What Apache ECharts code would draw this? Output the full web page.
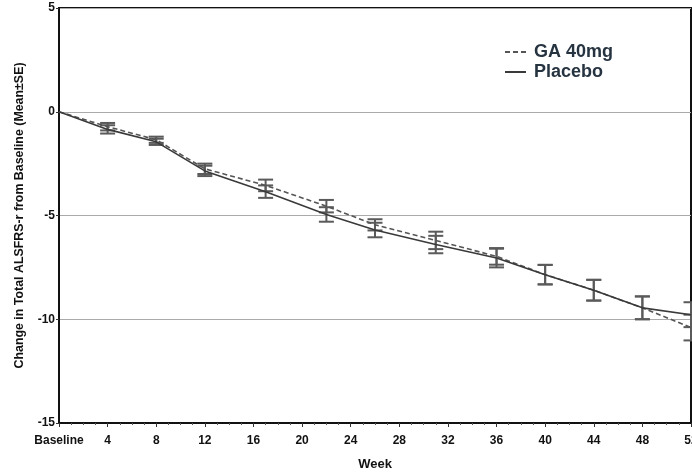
<!DOCTYPE html>
<html>
<head>
<meta charset="utf-8">
<script src="https://cdn.jsdelivr.net/npm/echarts@6/dist/echarts.min.js"></script>
<style>
html,body{margin:0;padding:0;background:#fff;}
#chart{width:692px;height:475px;}
</style>
</head>
<body>
<div id="chart"></div>
<script>
// Data
const weeks       = [0, 4, 8, 12, 17, 22, 26, 31, 36, 40, 44, 48, 52];
const gaMean      = [0, -0.72, -1.35, -2.75, -3.55, -4.55, -5.45, -6.20, -6.97, -7.85, -8.60, -9.45, -10.40];
const gaSE        = [0, 0.18, 0.15, 0.25, 0.28, 0.30, 0.27, 0.42, 0.40, 0.47, 0.50, 0.55, 0.62];
const placeboMean = [0, -0.85, -1.45, -2.85, -3.85, -4.95, -5.70, -6.40, -7.05, -7.85, -8.60, -9.45, -9.78];
const placeboSE   = [0, 0.20, 0.15, 0.25, 0.30, 0.35, 0.35, 0.42, 0.45, 0.47, 0.50, 0.55, 0.60];
const seriesNames = ['GA 40mg', 'Placebo'];
const yTicks = [-15, -10, -5, 0, 5];

const pairs = (m) => weeks.map((w, i) => [w, m[i]]);
const bars = (m, s) => weeks.map((w, i) => [w, m[i] - s[i], m[i] + s[i]]).filter((d, i) => s[i] > 0);

function errorBar(color) {
  return function (params, api) {
    const x = api.value(0);
    const lo = api.coord([x, api.value(1)]);
    const hi = api.coord([x, api.value(2)]);
    const hw = 7.5;
    const st = { stroke: color, lineWidth: 2 };
    return {
      type: 'group',
      children: [
        { type: 'line', shape: { x1: lo[0], y1: lo[1], x2: hi[0], y2: hi[1] }, style: st },
        { type: 'line', shape: { x1: lo[0] - hw, y1: lo[1], x2: lo[0] + hw, y2: lo[1] }, style: st },
        { type: 'line', shape: { x1: hi[0] - hw, y1: hi[1], x2: hi[0] + hw, y2: hi[1] }, style: st }
      ]
    };
  };
}

const font = 'Liberation Sans, Arial, sans-serif';
const chart = echarts.init(document.getElementById('chart'), null, { renderer: 'canvas' });
chart.setOption({
  backgroundColor: '#fff',
  animation: false,
  grid: {
    left: 59, right: 1, top: 8, bottom: 52, containLabel: false, outerBoundsMode: 'none',
    show: true, borderColor: '#111', borderWidth: 2, backgroundColor: 'transparent'
  },
  legend: {
    data: seriesNames,
    orient: 'vertical',
    left: 499,
    top: 38,
    itemWidth: 21,
    itemHeight: 14,
    itemGap: 2,
    itemStyle: { opacity: 0 },
    textStyle: { color: '#263340', fontSize: 18, fontWeight: 'bold', fontFamily: font, padding: [0, 0, 0, 3] }
  },
  xAxis: {
    type: 'value',
    min: 0, max: 52, interval: 4,
    name: 'Week', nameLocation: 'middle', nameGap: 35,
    nameTextStyle: { color: '#111', fontSize: 13, fontWeight: 'bold', fontFamily: font },
    axisLine: { show: true, onZero: false, lineStyle: { color: '#111', width: 2 } },
    axisTick: { show: true, length: 4, lineStyle: { color: '#333' } },
    minorTick: { show: true, splitNumber: 4, length: 2, lineStyle: { color: '#555' } },
    splitLine: { show: false },
    axisLabel: {
      margin: 12, color: '#111', fontSize: 12, fontWeight: 'bold', fontFamily: font,
      formatter: (v) => v === 0 ? 'Baseline' : String(v)
    }
  },
  yAxis: {
    type: 'value',
    min: yTicks[0], max: yTicks[yTicks.length - 1], interval: 5,
    name: 'Change in Total ALSFRS-r from Baseline (Mean±SE)',
    nameLocation: 'middle', nameGap: 33,
    nameTextStyle: { color: '#111', fontSize: 12.4, fontWeight: 'bold', fontFamily: font },
    axisLine: { show: true, onZero: false, lineStyle: { color: '#111', width: 2 } },
    axisTick: { show: true, length: 3, lineStyle: { color: '#333' } },
    splitLine: { show: true, lineStyle: { color: '#aaa', width: 1.2 } },
    axisLabel: { margin: 4, color: '#111', fontSize: 12, fontWeight: 'bold', fontFamily: font }
  },
  series: [
    {
      name: seriesNames[0], type: 'line', data: pairs(gaMean), symbol: 'none',
      lineStyle: { color: '#555', width: 1.6, type: [5, 3] }, itemStyle: { color: '#555' }, z: 3
    },
    {
      name: seriesNames[1], type: 'line', data: pairs(placeboMean), symbol: 'none',
      lineStyle: { color: '#3a3a3a', width: 1.6, type: 'solid' }, itemStyle: { color: '#3a3a3a' }, z: 4
    },
    {
      type: 'custom', renderItem: errorBar('#5a5a5a'), data: bars(gaMean, gaSE),
      encode: { x: 0, y: [1, 2] }, clip: false, z: 2, silent: true
    },
    {
      type: 'custom', renderItem: errorBar('#5a5a5a'), data: bars(placeboMean, placeboSE),
      encode: { x: 0, y: [1, 2] }, clip: false, z: 2, silent: true
    }
  ]
});
</script>
</body>
</html>
